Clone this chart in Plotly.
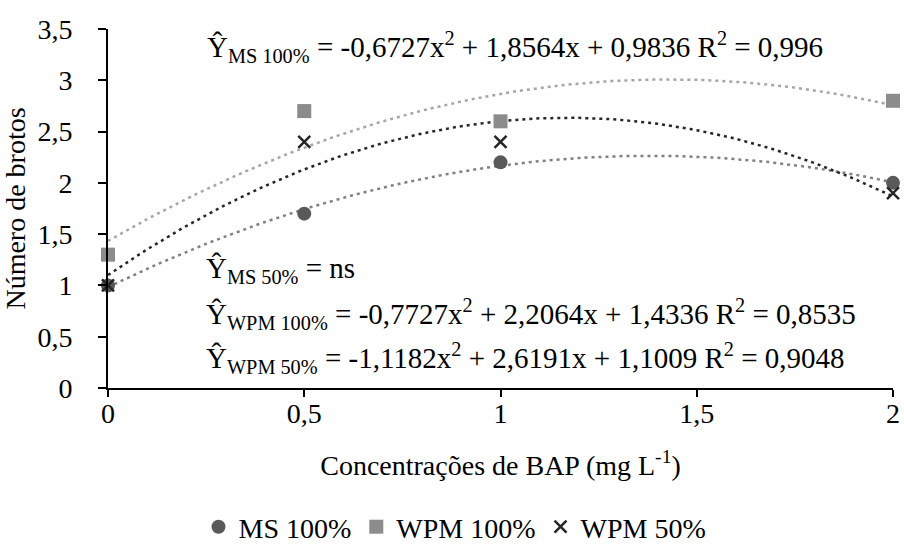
import numpy as np
import plotly.graph_objects as go

# Data
bap = [0, 0.5, 1, 2]
ms100 = [1.0, 1.7, 2.2, 2.0]
wpm100 = [1.3, 2.7, 2.6, 2.8]
wpm50 = [1.0, 2.4, 2.4, 1.9]

# Regression coefficients shown on chart (a, b, c for a*x^2 + b*x + c)
coef_ms100 = [-0.6727, 1.8564, 0.9836]
coef_wpm100 = [-0.7727, 2.2064, 1.4336]
coef_wpm50 = [-1.1182, 2.6191, 1.1009]

x_ticks = [0, 0.5, 1, 1.5, 2]
x_tick_text = ["0", "0,5", "1", "1,5", "2"]
y_ticks = [0, 0.5, 1, 1.5, 2, 2.5, 3, 3.5]
y_tick_text = ["0", "0,5", "1", "1,5", "2", "2,5", "3", "3,5"]

FONT = "Liberation Serif"

xs = np.linspace(0, 2, 121)

def trend(c):
    return c[0] * xs**2 + c[1] * xs + c[2]

fig = go.Figure()

# Trend lines
for coef, col in [(coef_wpm100, "#a6a6a6"), (coef_ms100, "#808080"), (coef_wpm50, "#262626")]:
    fig.add_trace(go.Scatter(x=xs, y=trend(coef), mode="lines",
                             line=dict(color=col, width=2.5, dash="3px,4px"),
                             showlegend=False, hoverinfo="skip", cliponaxis=False))

fig.add_trace(go.Scatter(x=bap, y=ms100, mode="markers", name="MS 100%",
                         marker=dict(symbol="circle", size=14, color="#595959"),
                         cliponaxis=False))
fig.add_trace(go.Scatter(x=bap, y=wpm100, mode="markers", name="WPM 100%",
                         marker=dict(symbol="square", size=14, color="#8c8c8c"),
                         cliponaxis=False))
fig.add_trace(go.Scatter(x=bap, y=wpm50, mode="markers", name="WPM 50%",
                         marker=dict(symbol="x-thin", size=12, color="#262626",
                                     line=dict(width=2.5, color="#262626")),
                         cliponaxis=False))

eq_font = dict(family=FONT, size=29, color="#000000")
annots = [
    (205, 47, "Ŷ<sub>MS 100%</sub> = -0,6727x<sup>2</sup> + 1,8564x + 0,9836 R<sup>2</sup> = 0,996"),
    (204, 270, "Ŷ<sub>MS 50%</sub> = ns"),
    (204, 314, "Ŷ<sub>WPM 100%</sub> = -0,7727x<sup>2</sup> + 2,2064x + 1,4336 R<sup>2</sup> = 0,8535"),
    (204, 358, "Ŷ<sub>WPM 50%</sub> = -1,1182x<sup>2</sup> + 2,6191x + 1,1009 R<sup>2</sup> = 0,9048"),
]
L, R, T, B = 108, 11, 29, 161
W, H = 904, 549
pw, ph = W - L - R, H - T - B
for px, py, txt in annots:
    fig.add_annotation(x=(px - L) / pw, y=(H - B - py) / ph, xref="paper", yref="paper",
                       text=txt, showarrow=False, xanchor="left", yanchor="middle",
                       font=eq_font)

fig.update_layout(
    width=W, height=H,
    margin=dict(l=L, r=R, t=T, b=B, autoexpand=False),
    paper_bgcolor="white", plot_bgcolor="white",
    font=dict(family=FONT, size=28, color="#000000"),
    xaxis=dict(range=[0, 2], tickvals=x_ticks, ticktext=x_tick_text, automargin=False,
               showgrid=False, zeroline=False, showline=True, linecolor="#000000", linewidth=2,
               ticks="outside", ticklen=7, tickwidth=1.5, tickcolor="#000000",
               tickfont=dict(family=FONT, size=28), ticklabelstandoff=-8,
               title=dict(text="Concentrações de BAP (mg L<sup>-1</sup>)", font=dict(family=FONT, size=28), standoff=28)),
    yaxis=dict(range=[0, 3.5], tickvals=y_ticks, ticktext=y_tick_text, automargin=False,
               showgrid=False, zeroline=False, showline=True, linecolor="#000000", linewidth=2,
               ticks="outside", ticklen=8, tickwidth=1.5, tickcolor="#000000",
               tickfont=dict(family=FONT, size=28), ticklabelstandoff=20,
               title=dict(text="Número de brotos", font=dict(family=FONT, size=28), standoff=8)),
    legend=dict(orientation="h", x=(455 - L) / pw, xanchor="center", y=(H - B - 527) / ph, yanchor="middle",
                font=dict(family=FONT, size=28), itemwidth=30, tracegroupgap=0),
    showlegend=True,
)

fig.write_html("out.html")
